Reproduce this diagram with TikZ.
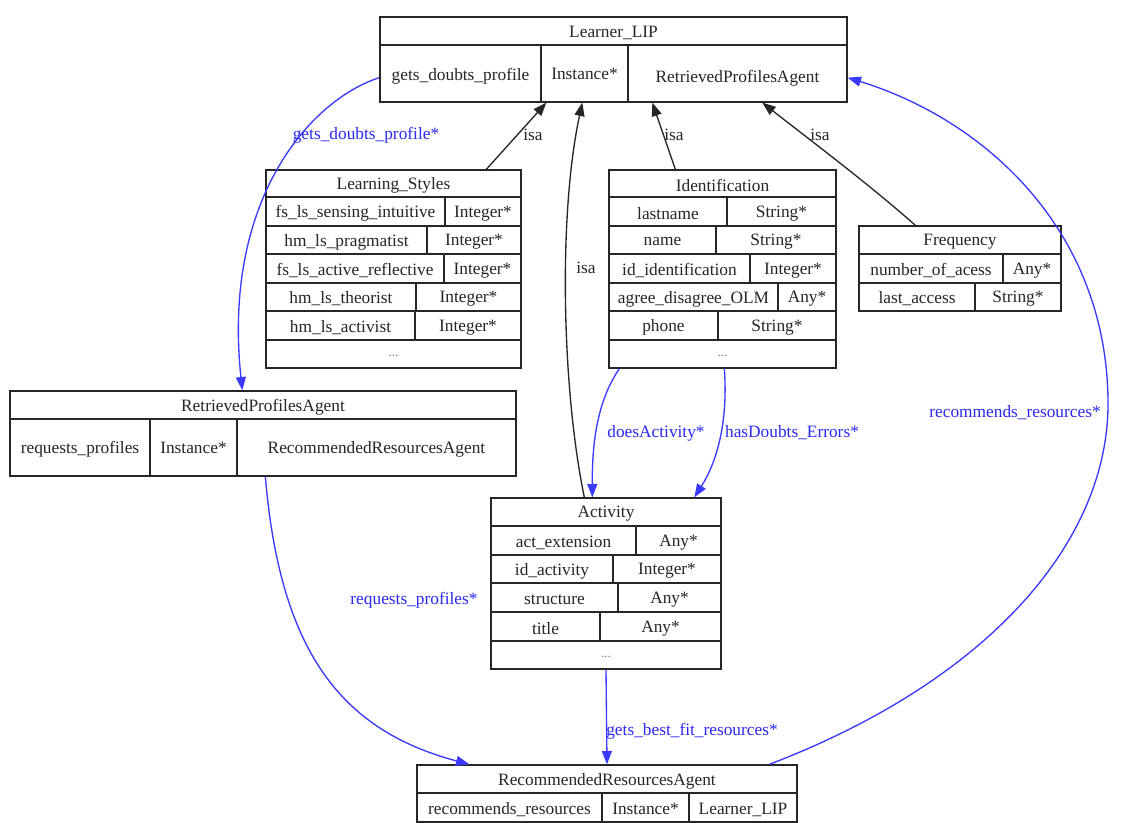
\documentclass[tikz,border=0pt]{standalone}
\usepackage{fontspec}
\setmainfont{Liberation Serif}
\usetikzlibrary{arrows.meta,calc}
\definecolor{eblue}{HTML}{3A3AFF}
\definecolor{lblue}{HTML}{2A2AF2}
\definecolor{ink}{HTML}{262626}
\tikzset{
  txt/.style={font=\fontsize{13}{15}\selectfont, inner sep=0pt, text=ink, yshift=-1.5pt},
  dots/.style={font=\fontsize{10}{12}\selectfont, inner sep=0pt, text=gray},
  box/.style={draw=ink, line width=1pt, inner sep=0pt, rectangle},
  cellline/.style={draw=ink, line width=0.9pt},
  isaedge/.style={draw=ink, line width=1pt, -{Triangle[length=10pt,width=7.5pt]}},
  reledge/.style={draw=eblue, line width=1pt, -{Triangle[length=10pt,width=7.5pt]}},
  isalbl/.style={font=\fontsize{13}{15}\selectfont, inner sep=1pt, text=ink},
  rellbl/.style={font=\fontsize{13}{15}\selectfont, inner sep=1pt, text=lblue},
}
\newcommand\crow[8]{%
  \draw[cellline] (#2,#5) rectangle (#4,#6);
  \draw[cellline] (#3,#5) -- (#3,#6);
  \node[txt] (#1l) at ({(#2+#3)/2},{(#5+#6)/2}) {#7};
  \node[txt] (#1r) at ({(#3+#4)/2},{(#5+#6)/2}) {#8};}
\begin{document}
\begin{tikzpicture}[x=0.75pt,y=-0.75pt]
\useasboundingbox[fill=white] (0,0) rectangle (1126,823);

% ---------- Learner_LIP ----------
\node[box, minimum width=467*0.75pt, minimum height=85*0.75pt] (lip) at (613.5,59.5) {};
\draw[cellline] (380,45) -- (847,45);
\draw[cellline] (541,45) -- (541,102);
\draw[cellline] (628,45) -- (628,102);
\node[txt] (liph) at (613.5,31) {Learner\_LIP};
\node[txt] (lipa) at (460.5,74) {gets\_doubts\_profile};
\node[txt] (lipb) at (584.5,72) {Instance*};
\node[txt] (lipc) at (737.5,76) {RetrievedProfilesAgent};

% ---------- Learning_Styles ----------
\node[box, minimum width=255*0.75pt, minimum height=198*0.75pt] (ls) at (393.5,269) {};
\node[txt] (lsh) at (393.5,183.5) {Learning\_Styles};
\crow{lsa}{266}{445}{521}{197}{226}{fs\_ls\_sensing\_intuitive}{Integer*}
\crow{lsb}{266}{427}{521}{226}{254}{hm\_ls\_pragmatist}{Integer*}
\crow{lsc}{266}{444}{521}{254}{283}{fs\_ls\_active\_reflective}{Integer*}
\crow{lsd}{266}{416}{521}{283}{311}{hm\_ls\_theorist}{Integer*}
\crow{lse}{266}{415}{521}{311}{340}{hm\_ls\_activist}{Integer*}
\node[dots] (lsf) at (393.5,356) {...};

% ---------- Identification ----------
\node[box, minimum width=227*0.75pt, minimum height=198*0.75pt] (id) at (722.5,269) {};
\node[txt] (idh) at (722.5,183.5) {Identification};
\crow{ida}{609}{727}{836}{197}{226}{lastname}{String*}
\crow{idb}{609}{716}{836}{226}{254}{name}{String*}
\crow{idc}{609}{750}{836}{254}{283}{id\_identification}{Integer*}
\crow{idd}{609}{778}{836}{283}{311}{agree\_disagree\_OLM}{Any*}
\crow{ide}{609}{718}{836}{311}{340}{phone}{String*}
\node[dots] (idf) at (722.5,356) {...};

% ---------- Frequency ----------
\node[box, minimum width=202*0.75pt, minimum height=85*0.75pt] (freq) at (960,268.5) {};
\node[txt] (freqh) at (960,240) {Frequency};
\crow{fra}{859}{1003}{1061}{254}{283}{number\_of\_acess}{Any*}
\crow{frb}{859}{975}{1061}{283}{311}{last\_access}{String*}

% ---------- RetrievedProfilesAgent ----------
\node[box, minimum width=506*0.75pt, minimum height=85*0.75pt] (rpa) at (263,433.5) {};
\draw[cellline] (10,419) -- (516,419);
\draw[cellline] (150,419) -- (150,476);
\draw[cellline] (237,419) -- (237,476);
\node[txt] (rpah) at (263,405) {RetrievedProfilesAgent};
\node[txt] (rpaa) at (80,447.5) {requests\_profiles};
\node[txt] (rpab) at (193.5,446) {Instance*};
\node[txt] (rpac) at (376.5,447.5) {RecommendedResourcesAgent};

% ---------- Activity ----------
\node[box, minimum width=230*0.75pt, minimum height=171*0.75pt] (act) at (606,583.5) {};
\node[txt] (acth) at (606,512) {Activity};
\crow{aca}{491}{636}{721}{526}{555}{act\_extension}{Any*}
\crow{acb}{491}{613}{721}{555}{583}{id\_activity}{Integer*}
\crow{acc}{491}{618}{721}{583}{612}{structure}{Any*}
\crow{acd}{491}{600}{721}{612}{641}{title}{Any*}
\node[dots] (ace) at (606,657) {...};

% ---------- RecommendedResourcesAgent ----------
\node[box, minimum width=380*0.75pt, minimum height=57*0.75pt] (rra) at (607,793.5) {};
\draw[cellline] (417,793) -- (797,793);
\draw[cellline] (602,793) -- (602,822);
\draw[cellline] (689,793) -- (689,822);
\node[txt] (rrah) at (607,779) {RecommendedResourcesAgent};
\node[txt] (rraa) at (509.5,807.5) {recommends\_resources};
\node[txt] (rrab) at (645.5,806.5) {Instance*};
\node[txt] (rrac) at (743,807.5) {Learner\_LIP};

% ---------- isa edges ----------
\draw[isaedge] ($(ls.north west)+(221,0)$) -- ($(lip.south west)+(167,0)$);
\node[isalbl] (isa1) at (533,135) {isa};
\draw[isaedge] ($(act.north west)+(94,0)$) .. controls (562,390) and (558,215) .. ($(lip.south west)+(203,0)$);
\node[isalbl] (isa2) at (586,268) {isa};
\draw[isaedge] ($(id.north west)+(67,0)$) -- ($(lip.south west)+(273,0)$);
\node[isalbl] (isa3) at (674,135) {isa};
\draw[isaedge] ($(freq.north west)+(57,0)$) .. controls (870,185) and (810,140) .. ($(lip.south west)+(383,0)$);
\node[isalbl] (isa4) at (820,135) {isa};

% ---------- relation edges ----------
\draw[reledge] ($(lip.south west)+(0,-25)$) .. controls (310,100) and (222,200) .. ($(rpa.north west)+(233,0)$);
\node[rellbl] (r1) at (366,135) {gets\_doubts\_profile*};

\draw[reledge] ($(id.south west)+(11,0)$) .. controls (598,400) and (592,440) .. ($(act.north west)+(102,0)$);
\node[rellbl] (r2) at (656,433) {doesActivity*};

\draw[reledge] ($(id.south west)+(116,0)$) .. controls (728,420) and (718,460) .. ($(act.north west)+(204,0)$);
\node[rellbl] (r3) at (792,433) {hasDoubts\_Errors*};

\draw[reledge] ($(rpa.south west)+(256,0)$) .. controls (280,650) and (340,730) .. ($(rra.north west)+(53,0)$);
\node[rellbl] (r4) at (414,600) {requests\_profiles*};

\draw[reledge] (act.south) -- (rra.north);
\node[rellbl] (r5) at (692,731) {gets\_best\_fit\_resources*};

\draw[reledge] ($(rra.north west)+(353,0)$) .. controls (990,680) and (1110,540) .. (1108,400)
  .. controls (1106,230) and (985,120) .. ($(lip.south east)+(0,-25)$);
\node[rellbl] (r6) at (1015,413) {recommends\_resources*};
\end{tikzpicture}
\end{document}
